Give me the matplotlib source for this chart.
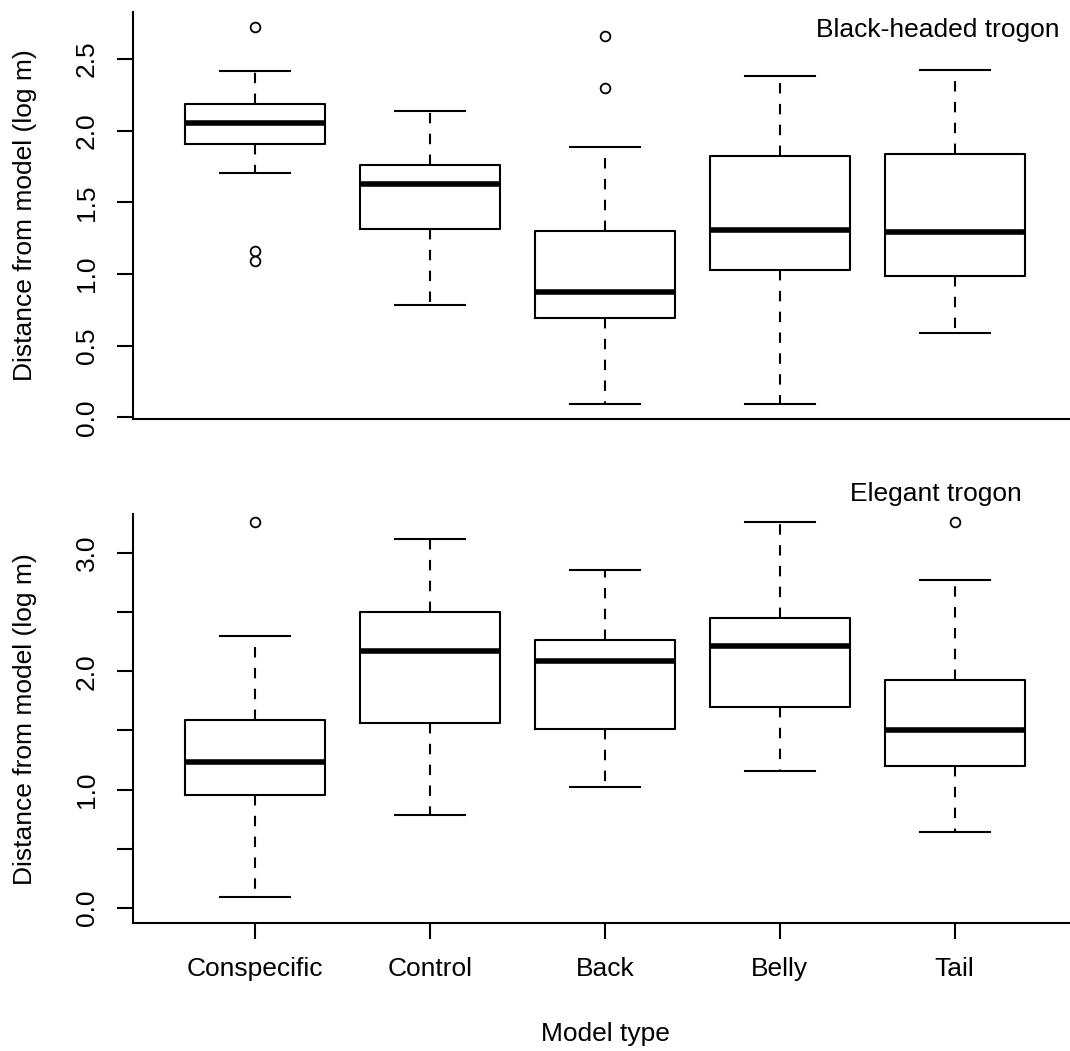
import matplotlib
matplotlib.use("Agg")
import matplotlib.pyplot as plt

plt.rcParams["font.family"] = ["Liberation Sans", "DejaVu Sans"]
plt.rcParams["font.size"] = 19

# model types
categories = ["Conspecific", "Control", "Back", "Belly", "Tail"]

# Black-headed trogon: box stats
bh_whislo = [1.703, 0.786, 0.091, 0.091, 0.586]
bh_q1 = [1.907, 1.316, 0.691, 1.028, 0.984]
bh_med = [2.052, 1.626, 0.872, 1.305, 1.293]
bh_q3 = [2.188, 1.759, 1.302, 1.824, 1.840]
bh_whishi = [2.415, 2.140, 1.886, 2.378, 2.422]
bh_fliers = [[2.726, 1.16, 1.09], [], [2.657, 2.300], [], []]

# Elegant trogon
el_whislo = [0.093, 0.785, 1.025, 1.160, 0.641]
el_q1 = [0.957, 1.566, 1.516, 1.702, 1.197]
el_med = [1.234, 2.171, 2.089, 2.216, 1.505]
el_q3 = [1.589, 2.498, 2.267, 2.450, 1.925]
el_whishi = [2.300, 3.116, 2.859, 3.263, 2.775]
el_fliers = [[3.26], [], [], [], [3.26]]


def make_stats(lo, q1, med, q3, hi, fl):
    return [dict(whislo=a, q1=b, med=c, q3=d, whishi=e, fliers=f, label=n)
            for a, b, c, d, e, f, n in zip(lo, q1, med, q3, hi, fl, categories)]


W, H = 1070, 1051
fig = plt.figure(figsize=(W / 100, H / 100), dpi=100)

# axes placed in pixels (left, top, right, bottom)
ax1 = fig.add_axes([133 / W, 1 - 419.3 / H, (1077 - 133) / W, (419.3 - 11.7) / H])
ax2 = fig.add_axes([133 / W, 1 - 923 / H, (1077 - 133) / W, (923 - 514.3) / H])

box_kw = dict(
    widths=0.8,
    patch_artist=False,
    boxprops=dict(color="black", linewidth=1.5),
    medianprops=dict(color="black", linewidth=4.0, solid_capstyle="butt"),
    whiskerprops=dict(color="black", linewidth=1.5, linestyle=(0, (5, 5))),
    capprops=dict(color="black", linewidth=1.5),
    flierprops=dict(marker="o", markerfacecolor="white", markeredgecolor="black",
                    markersize=7, markeredgewidth=1.3, linestyle="none"),
    capwidths=0.4,
)

ax1.bxp(make_stats(bh_whislo, bh_q1, bh_med, bh_q3, bh_whishi, bh_fliers), **box_kw)
ax2.bxp(make_stats(el_whislo, el_q1, el_med, el_q3, el_whishi, el_fliers), **box_kw)

for ax in (ax1, ax2):
    ax.set_xlim(0.3, 5.7)
    for s in ("top", "right"):
        ax.spines[s].set_visible(False)
    for s in ("left", "bottom"):
        ax.spines[s].set_linewidth(1.5)
    ax.tick_params(axis="y", length=11.5, width=1.5, pad=13, labelrotation=90)
    ax.set_ylabel("Distance from model (log m)", fontsize=19)
    ax.yaxis.set_label_coords(-108 / 944, 0.5)
    ax.yaxis.label.set_va("center")

ax1.set_ylim(-0.014, 2.830)
ax1.set_yticks([0, 0.5, 1.0, 1.5, 2.0, 2.5])
ax1.set_yticklabels(["0.0", "0.5", "1.0", "1.5", "2.0", "2.5"])
ax1.tick_params(axis="x", bottom=False, labelbottom=False)

ax2.set_ylim(-0.128, 3.328)
ax2.set_yticks([0, 0.5, 1.0, 1.5, 2.0, 2.5, 3.0])
ax2.set_yticklabels(["0.0", "", "1.0", "", "2.0", "", "3.0"])
ax2.set_xticks([1, 2, 3, 4, 5])
ax2.set_xticklabels(categories)
ax2.tick_params(axis="x", length=11.5, width=1.5, pad=13, labelsize=19)

for ax in (ax1, ax2):
    for lab in ax.get_yticklabels():
        lab.set_va("center")

ax1.text(0.981, 0.938, "Black-headed trogon", transform=ax1.transAxes,
         ha="right", va="baseline", fontsize=19)
ax2.text(0.9417, 1.0325, "Elegant trogon", transform=ax2.transAxes,
         ha="right", va="baseline", fontsize=19, clip_on=False)

fig.text(605 / W, 1 - 1041 / H, "Model type", ha="center", va="baseline", fontsize=19)

fig.savefig("out.png", dpi=100)
